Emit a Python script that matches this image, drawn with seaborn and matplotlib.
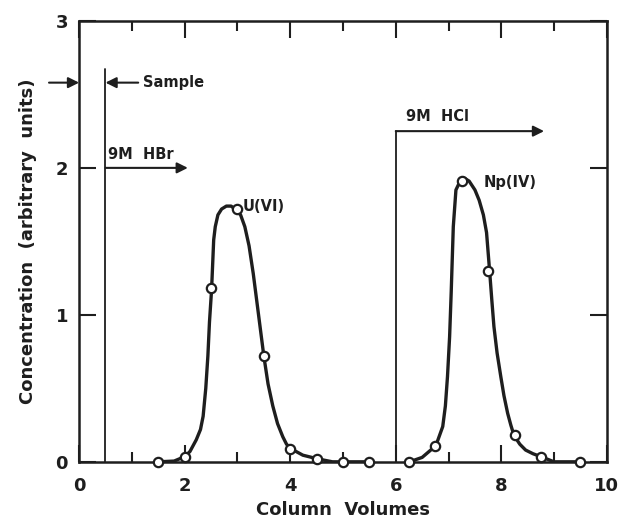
import matplotlib
matplotlib.use("Agg")
import matplotlib.pyplot as plt
import pandas as pd
import seaborn as sns

# marker points
u_x = [1.5, 2.0, 2.5, 3.0, 3.5, 4.0, 4.5, 5.0, 5.5]
u_y = [0.0, 0.03, 1.18, 1.72, 0.72, 0.09, 0.02, 0.0, 0.0]
np_x = [6.25, 6.75, 7.25, 7.75, 8.25, 8.75, 9.5]
np_y = [0.0, 0.11, 1.91, 1.30, 0.18, 0.03, 0.0]

# hand-drawn elution curves
u_curve_x = [1.5, 1.8, 2.0, 2.1, 2.22, 2.30, 2.35, 2.40, 2.44, 2.47, 2.51, 2.55, 2.58,
             2.63, 2.70, 2.79, 2.88, 2.99, 3.06, 3.14, 3.22, 3.30, 3.40, 3.50, 3.58,
             3.67, 3.76, 3.86, 3.93, 4.01, 4.24, 4.52, 4.8, 5.5]
u_curve_y = [0.0, 0.005, 0.035, 0.07, 0.15, 0.22, 0.31, 0.50, 0.72, 0.95, 1.17, 1.51, 1.60,
             1.68, 1.72, 1.74, 1.74, 1.71, 1.68, 1.60, 1.47, 1.28, 1.00, 0.72, 0.53,
             0.38, 0.26, 0.17, 0.12, 0.09, 0.045, 0.02, 0.0, 0.0]
np_curve_x = [6.26, 6.5, 6.76, 6.89, 6.94, 6.98, 7.02, 7.05, 7.09, 7.14, 7.22, 7.30,
              7.39, 7.50, 7.58, 7.66, 7.72, 7.78, 7.82, 7.86, 7.92, 7.99, 8.05, 8.12,
              8.18, 8.24, 8.35, 8.46, 8.6, 8.75, 9.0, 9.5]
np_curve_y = [0.0, 0.03, 0.11, 0.24, 0.38, 0.58, 0.85, 1.15, 1.60, 1.85, 1.91, 1.93,
              1.91, 1.85, 1.78, 1.68, 1.56, 1.29, 1.10, 0.92, 0.74, 0.58, 0.45, 0.33,
              0.25, 0.18, 0.12, 0.08, 0.055, 0.035, 0.0, 0.0]

x_ticks = [0, 2, 4, 6, 8, 10]
y_ticks = [0, 1, 2, 3]

sns.set_style("ticks")
plt.rcParams["font.family"] = ["DejaVu Sans"]
plt.rcParams["font.weight"] = "bold"

ink = "#1e1e1e"
fig = plt.figure(figsize=(6.18, 5.23), dpi=100)
ax = fig.add_axes([0.128, 0.117, 0.854, 0.843])

curves = pd.DataFrame({"x": u_curve_x + np_curve_x,
                       "y": u_curve_y + np_curve_y,
                       "peak": ["U(VI)"] * len(u_curve_x) + ["Np(IV)"] * len(np_curve_x)})
points = pd.DataFrame({"x": u_x + np_x, "y": u_y + np_y})

sns.lineplot(data=curves, x="x", y="y", units="peak", estimator=None, sort=False,
             color=ink, lw=2.4, ax=ax, zorder=3)
sns.scatterplot(data=points, x="x", y="y", s=45, facecolor="white", edgecolor=ink,
                linewidth=1.6, ax=ax, zorder=5, clip_on=False)

# sample / eluent markers
ax.plot([0.5, 0.5], [0, 2.67], color=ink, lw=1.3)
ax.plot([6.0, 6.0], [0, 2.25], color=ink, lw=1.3)
arrow = dict(arrowstyle="-|>", color=ink, lw=1.5, mutation_scale=16, shrinkA=0, shrinkB=0)
ax.annotate("", xy=(2.06, 2.0), xytext=(0.5, 2.0), arrowprops=arrow)
ax.annotate("", xy=(8.81, 2.25), xytext=(6.0, 2.25), arrowprops=arrow)
ax.annotate("", xy=(0.5, 2.58), xytext=(1.12, 2.58), arrowprops=arrow)
ax.annotate("", xy=(0.0, 2.58), xytext=(-0.57, 2.58), arrowprops=arrow,
            annotation_clip=False)

ax.text(1.21, 2.58, "Sample", fontsize=10.5, fontweight="bold", va="center", color=ink)
ax.text(0.55, 2.04, "9M  HBr", fontsize=10.5, fontweight="bold", va="bottom", color=ink)
ax.text(6.2, 2.30, "9M  HCl", fontsize=10.5, fontweight="bold", va="bottom", color=ink)
ax.text(3.1, 1.74, "U(VI)", fontsize=10.5, fontweight="bold", va="center", color=ink)
ax.text(7.66, 1.90, "Np(IV)", fontsize=10.5, fontweight="bold", va="center", color=ink)

ax.set_xlim(0, 10)
ax.set_ylim(0, 3)
ax.set_xticks(x_ticks)
ax.set_xticks([1, 3, 5, 7, 9], minor=True)
ax.set_yticks(y_ticks)
ax.set_xticklabels([str(t) for t in x_ticks], fontsize=13, fontweight="bold", color=ink)
ax.set_yticklabels([str(t) for t in y_ticks], fontsize=13, fontweight="bold", color=ink)
ax.tick_params(which="major", direction="in", length=12, width=1.5, top=True, right=True,
               colors=ink, pad=8)
ax.tick_params(axis="x", which="major", pad=11)
ax.tick_params(which="minor", direction="in", length=7, width=1.5, top=True, colors=ink)
for s in ax.spines.values():
    s.set_linewidth(1.8)
    s.set_color(ink)

ax.set_xlabel("Column  Volumes", fontsize=13, fontweight="bold", color=ink)
ax.set_ylabel("Concentration  (arbitrary  units)", fontsize=13, fontweight="bold", color=ink)
ax.xaxis.set_label_coords(0.5, -0.09)
ax.yaxis.set_label_coords(-0.08, 0.5)

fig.savefig("out.png", dpi=100, facecolor="white")
